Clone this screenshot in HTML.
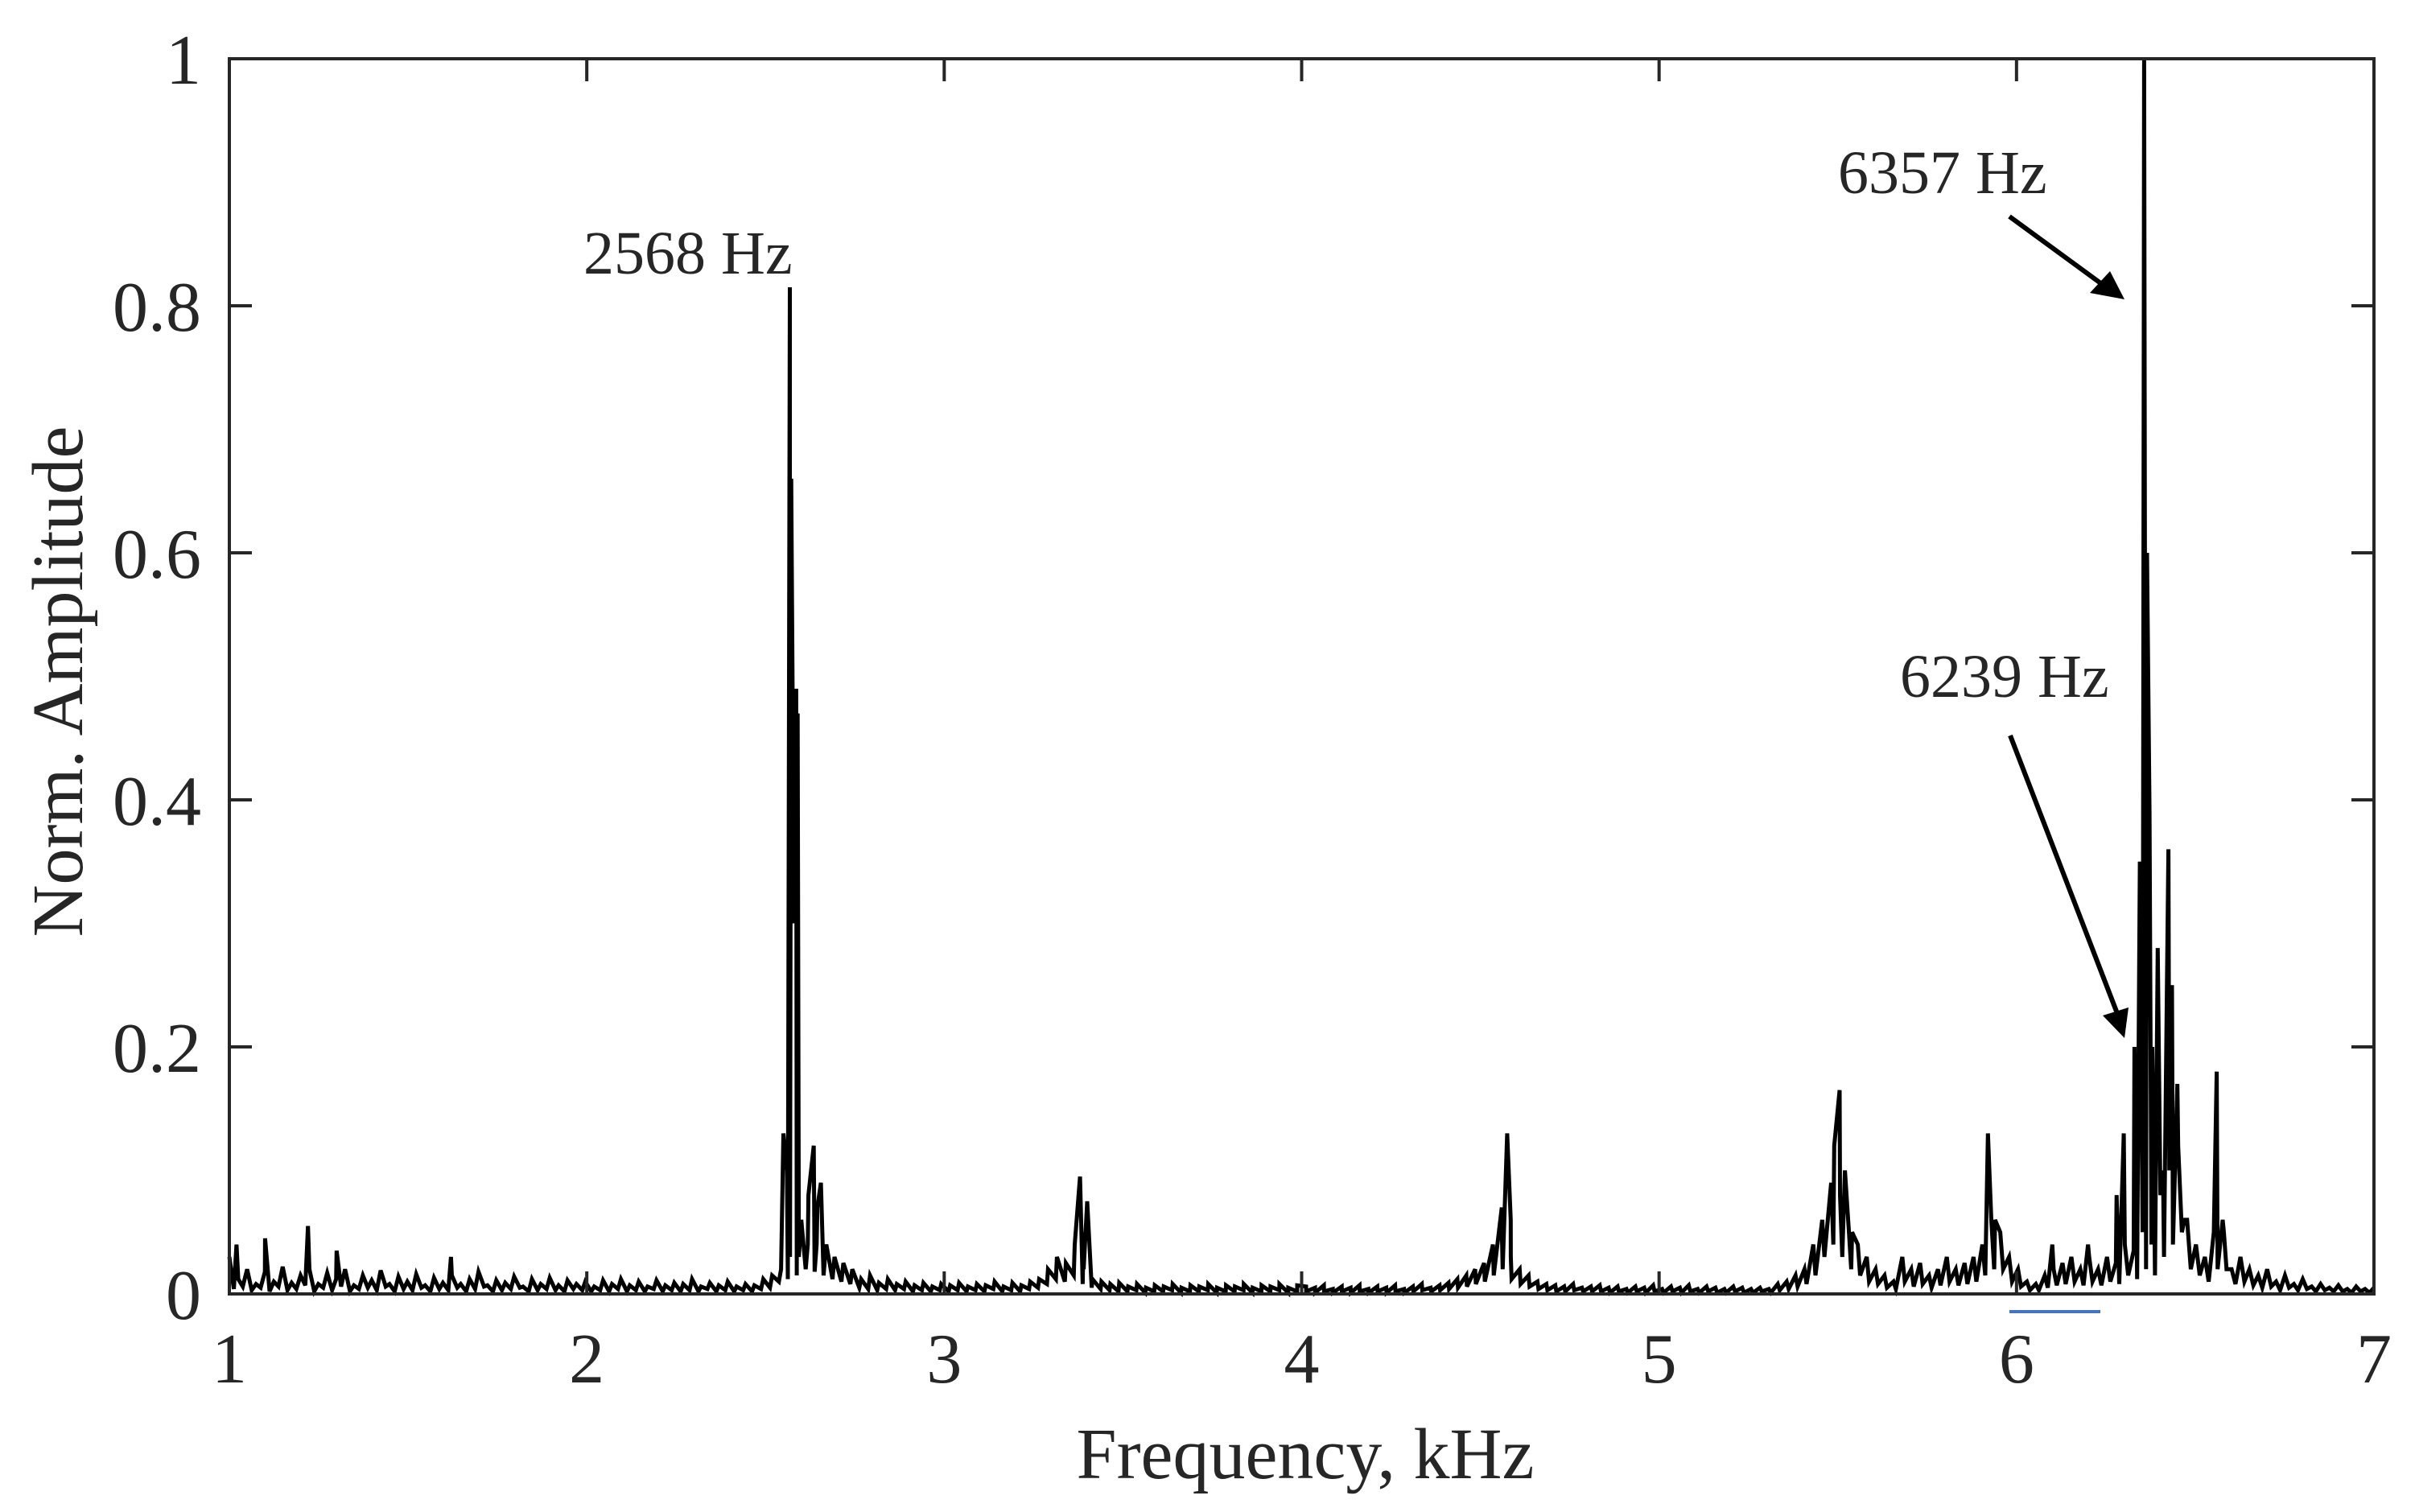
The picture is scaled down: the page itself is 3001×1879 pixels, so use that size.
<!DOCTYPE html>
<html><head><meta charset="utf-8"><style>
html,body{margin:0;padding:0;background:#fff;}
svg{display:block;}
text{font-family:"Liberation Serif","Times New Roman",serif;fill:#262626;}
</style></head><body>
<svg id="chart" width="3001" height="1879" viewBox="0 0 3001 1879" xmlns="http://www.w3.org/2000/svg">
<rect width="3001" height="1879" fill="#fff"/>
<g id="plot"></g>
<g id="axes"></g>
<line x1="2497" y1="1630" x2="2610" y2="1630" stroke="#4472c4" stroke-width="4"/>
<text x="1622" y="1837" font-size="90" text-anchor="middle">Frequency, kHz</text>
<text x="0" y="0" font-size="90" text-anchor="middle" transform="translate(102,847) rotate(-90)">Norm. Amplitude</text>
<text x="725" y="340" font-size="76">2568 Hz</text>
<text x="2284" y="240" font-size="76">6357 Hz</text>
<text x="2361" y="866" font-size="76">6239 Hz</text>
<g>
<line x1="2497" y1="269" x2="2620" y2="359" stroke="#000" stroke-width="6"/>
<polygon points="2640,372 2597,364 2622,337" fill="#000"/>
</g>
<g>
<line x1="2498" y1="914" x2="2632" y2="1262" stroke="#000" stroke-width="6"/>
<polygon points="2640,1290 2613,1262 2645,1252" fill="#000"/>
</g>
</svg>
<script>
const baseline = [0.03,0.012,0.02,0.008,0.018,0.01,0.022,0.009,0.015,0.02,0.008,0.017,0.012,0.02,0.007,0.015,0.011,0.019,0.008,0.014,0.01,0.016,0.007,0.013,0.009,0.015,0.008,0.012,0.018,0.007,0.011,0.009,0.014,0.006,0.012,0.008,0.013,0.007,0.011,0.008,0.01,
0.006,0.011,0.008,0.012,0.007,0.01,0.006,0.011,0.007,0.009,0.008,0.012,0.006,0.009,0.007,0.01,0.006,0.008,0.007,0.012,
0.015,0.02,0.03,0.03,0.04,0.04,0.035,0.03,0.025,0.02,0.012,0.015,0.009,0.012,0.008,0.01,0.007,0.009,0.006,0.008,
0.007,0.009,0.006,0.008,0.007,0.01,0.006,0.009,0.007,0.01,0.012,0.02,0.03,0.025,0.04,0.02,0.012,0.01,0.008,0.009,
0.006,0.008,0.005,0.007,0.006,0.008,0.005,0.007,0.006,0.008,0.005,0.007,0.006,0.008,0.005,0.007,0.006,0.008,0.005,0.007,
0.006,0.005,0.007,0.004,0.006,0.005,0.007,0.004,0.006,0.005,0.007,0.004,0.006,0.008,0.005,0.007,0.009,0.012,0.015,0.02,
0.025,0.04,0.05,0.03,0.02,0.015,0.01,0.008,0.007,0.006,0.008,0.005,0.006,0.007,0.005,0.006,0.004,0.006,0.005,0.007,
0.004,0.006,0.005,0.007,0.004,0.006,0.005,0.004,0.006,0.005,0.004,0.005,0.004,0.008,0.01,0.015,0.02,0.04,0.06,0.09,
0.08,0.05,0.04,0.03,0.02,0.015,0.01,0.03,0.02,0.025,0.015,0.02,0.03,0.02,0.025,0.03,0.04,0.06,0.05,0.03,
0.02,0.01,0.008,0.015,0.02,0.025,0.03,0.02,0.03,0.02,0.03,0.025,0.04,0.035,0.05,0.04,0.08,0.1,0.12,0.06,
0.04,0.03,0.05,0.06,0.02,0.03,0.02,0.015,0.02,0.01,0.015,0.008,0.012,0.006,0.008,0.005,0.007,0.004,0.006,0.004,0.005];
// interleaved low-side noise samples (between baseline samples)
const noiseLow = [0.004,0.006,0.003,0.005,0.002,0.006,0.003,0.004,0.007,0.002,0.005,0.003,0.006,0.002,0.004,0.005,0.003,0.006,0.002,0.004,0.003,0.005,0.002,0.004,0.003,0.005,0.002,0.004,0.006,0.002,0.003,0.004,0.005,0.002,0.003,0.004,0.003,0.002,0.004,0.003,
0.002,0.003,0.002,0.004,0.002,0.003,0.002,0.004,0.002,0.003,0.002,0.003,0.002,0.004,0.002,0.003,0.002,0.003,0.002,0.004,
0.005,0.01,0.012,0.015,0.02,0.018,0.015,0.012,0.01,0.008,0.005,0.004,0.003,0.004,0.003,0.004,0.002,0.003,0.002,0.003,
0.002,0.003,0.002,0.003,0.002,0.004,0.002,0.003,0.002,0.004,0.005,0.008,0.012,0.01,0.015,0.008,0.005,0.004,0.003,0.002,
0.002,0.003,0.001,0.002,0.002,0.003,0.001,0.002,0.002,0.003,0.001,0.002,0.002,0.003,0.001,0.002,0.002,0.003,0.001,0.002,
0.002,0.001,0.002,0.001,0.002,0.001,0.002,0.001,0.002,0.001,0.002,0.001,0.002,0.003,0.002,0.003,0.004,0.005,0.006,0.008,
0.01,0.015,0.02,0.012,0.008,0.006,0.004,0.003,0.002,0.002,0.003,0.002,0.002,0.002,0.001,0.002,0.001,0.002,0.001,0.002,
0.001,0.002,0.001,0.002,0.001,0.002,0.001,0.001,0.002,0.001,0.001,0.002,0.001,0.003,0.004,0.006,0.008,0.015,0.03,0.04,
0.03,0.02,0.015,0.01,0.008,0.005,0.004,0.01,0.006,0.008,0.005,0.007,0.01,0.007,0.008,0.01,0.015,0.02,0.02,0.01,
0.006,0.003,0.003,0.005,0.007,0.008,0.01,0.007,0.01,0.007,0.01,0.008,0.015,0.012,0.02,0.015,0.03,0.04,0.05,0.02,
0.015,0.01,0.02,0.02,0.008,0.01,0.007,0.005,0.006,0.003,0.005,0.003,0.004,0.002,0.003,0.002,0.002,0.001,0.002,0.001];
const peakFreqs = [1.02,1.1,1.22,1.3,1.62,2.55,2.56,2.568,2.572,2.58,2.586,2.59,2.60,2.62,2.635,2.645,2.655,2.67,3.38,3.39,3.40,4.56,4.575,4.585,5.49,5.505,5.52,5.54,5.92,5.94,6.1,6.2,6.28,6.30,6.33,6.345,6.357,6.365,6.372,6.38,6.395,6.41,6.425,6.435,6.45,6.47,6.56,6.58];
const peakAmps  = [0.04,0.045,0.055,0.035,0.03,0.13,0.10,0.815,0.66,0.30,0.49,0.47,0.06,0.08,0.12,0.07,0.09,0.04,0.095,0.05,0.075,0.07,0.13,0.06,0.12,0.165,0.10,0.05,0.13,0.06,0.04,0.04,0.08,0.13,0.2,0.35,1.0,0.6,0.39,0.2,0.28,0.1,0.36,0.25,0.17,0.06,0.18,0.05];
const xTicks = [1,2,3,4,5,6,7];
const yTicks = [0,0.2,0.4,0.6,0.8,1];
const yTickLabels = ["0","0.2","0.4","0.6","0.8","1"];

const L=285,R=2950,T=73,B=1608;
const xs = f => L + (f-1)/(7-1)*(R-L);
const ys = a => B - a*(B-T);
const NS="http://www.w3.org/2000/svg";
const plot=document.getElementById('plot'), axes=document.getElementById('axes');

const pts=[];
const step=6/(baseline.length-1);
baseline.forEach((a,i)=>pts.push([1+i*step,a]));
const step2=6/noiseLow.length;
noiseLow.forEach((a,i)=>pts.push([1+(i+0.5)*step2,a]));
peakFreqs.forEach((f,i)=>pts.push([f,peakAmps[i]]));
pts.sort((p,q)=>p[0]-q[0]);
const line=document.createElementNS(NS,'polyline');


line.setAttribute('points', pts.map(p=>xs(p[0]).toFixed(1)+','+ys(p[1]).toFixed(1)).join(' '));
line.setAttribute('fill','none');line.setAttribute('stroke','#000');line.setAttribute('stroke-width','5');line.setAttribute('stroke-linejoin','miter');
plot.appendChild(line);

const box=document.createElementNS(NS,'rect');


box.setAttribute('x',L);box.setAttribute('y',T);box.setAttribute('width',R-L);box.setAttribute('height',B-T);
box.setAttribute('fill','none');box.setAttribute('stroke','#262626');box.setAttribute('stroke-width','4');
axes.appendChild(box);

xTicks.forEach(v=>{
  const x=xs(v);
  [[B,B-28],[T,T+28]].forEach(([a,b])=>{
    const t=document.createElementNS(NS,'line');
    
    
    t.setAttribute('x1',x);t.setAttribute('x2',x);t.setAttribute('y1',a);t.setAttribute('y2',b);
    t.setAttribute('stroke','#262626');t.setAttribute('stroke-width','4');axes.appendChild(t);
  });
  const lb=document.createElementNS(NS,'text');
  
  
  lb.setAttribute('x',x);lb.setAttribute('y',1718);lb.setAttribute('font-size','88');lb.setAttribute('text-anchor','middle');
  lb.textContent=String(v);axes.appendChild(lb);
});
yTicks.forEach((v,i)=>{
  const y=ys(v);
  [[L,L+28],[R,R-28]].forEach(([a,b])=>{
    const t=document.createElementNS(NS,'line');
    
    
    t.setAttribute('x1',a);t.setAttribute('x2',b);t.setAttribute('y1',y);t.setAttribute('y2',y);
    t.setAttribute('stroke','#262626');t.setAttribute('stroke-width','4');axes.appendChild(t);
  });
  const lb=document.createElementNS(NS,'text');
  
  
  lb.setAttribute('x',250);lb.setAttribute('y',y+31);lb.setAttribute('font-size','88');lb.setAttribute('text-anchor','end');
  lb.textContent=yTickLabels[i];axes.appendChild(lb);
});
</script>
</body></html>
